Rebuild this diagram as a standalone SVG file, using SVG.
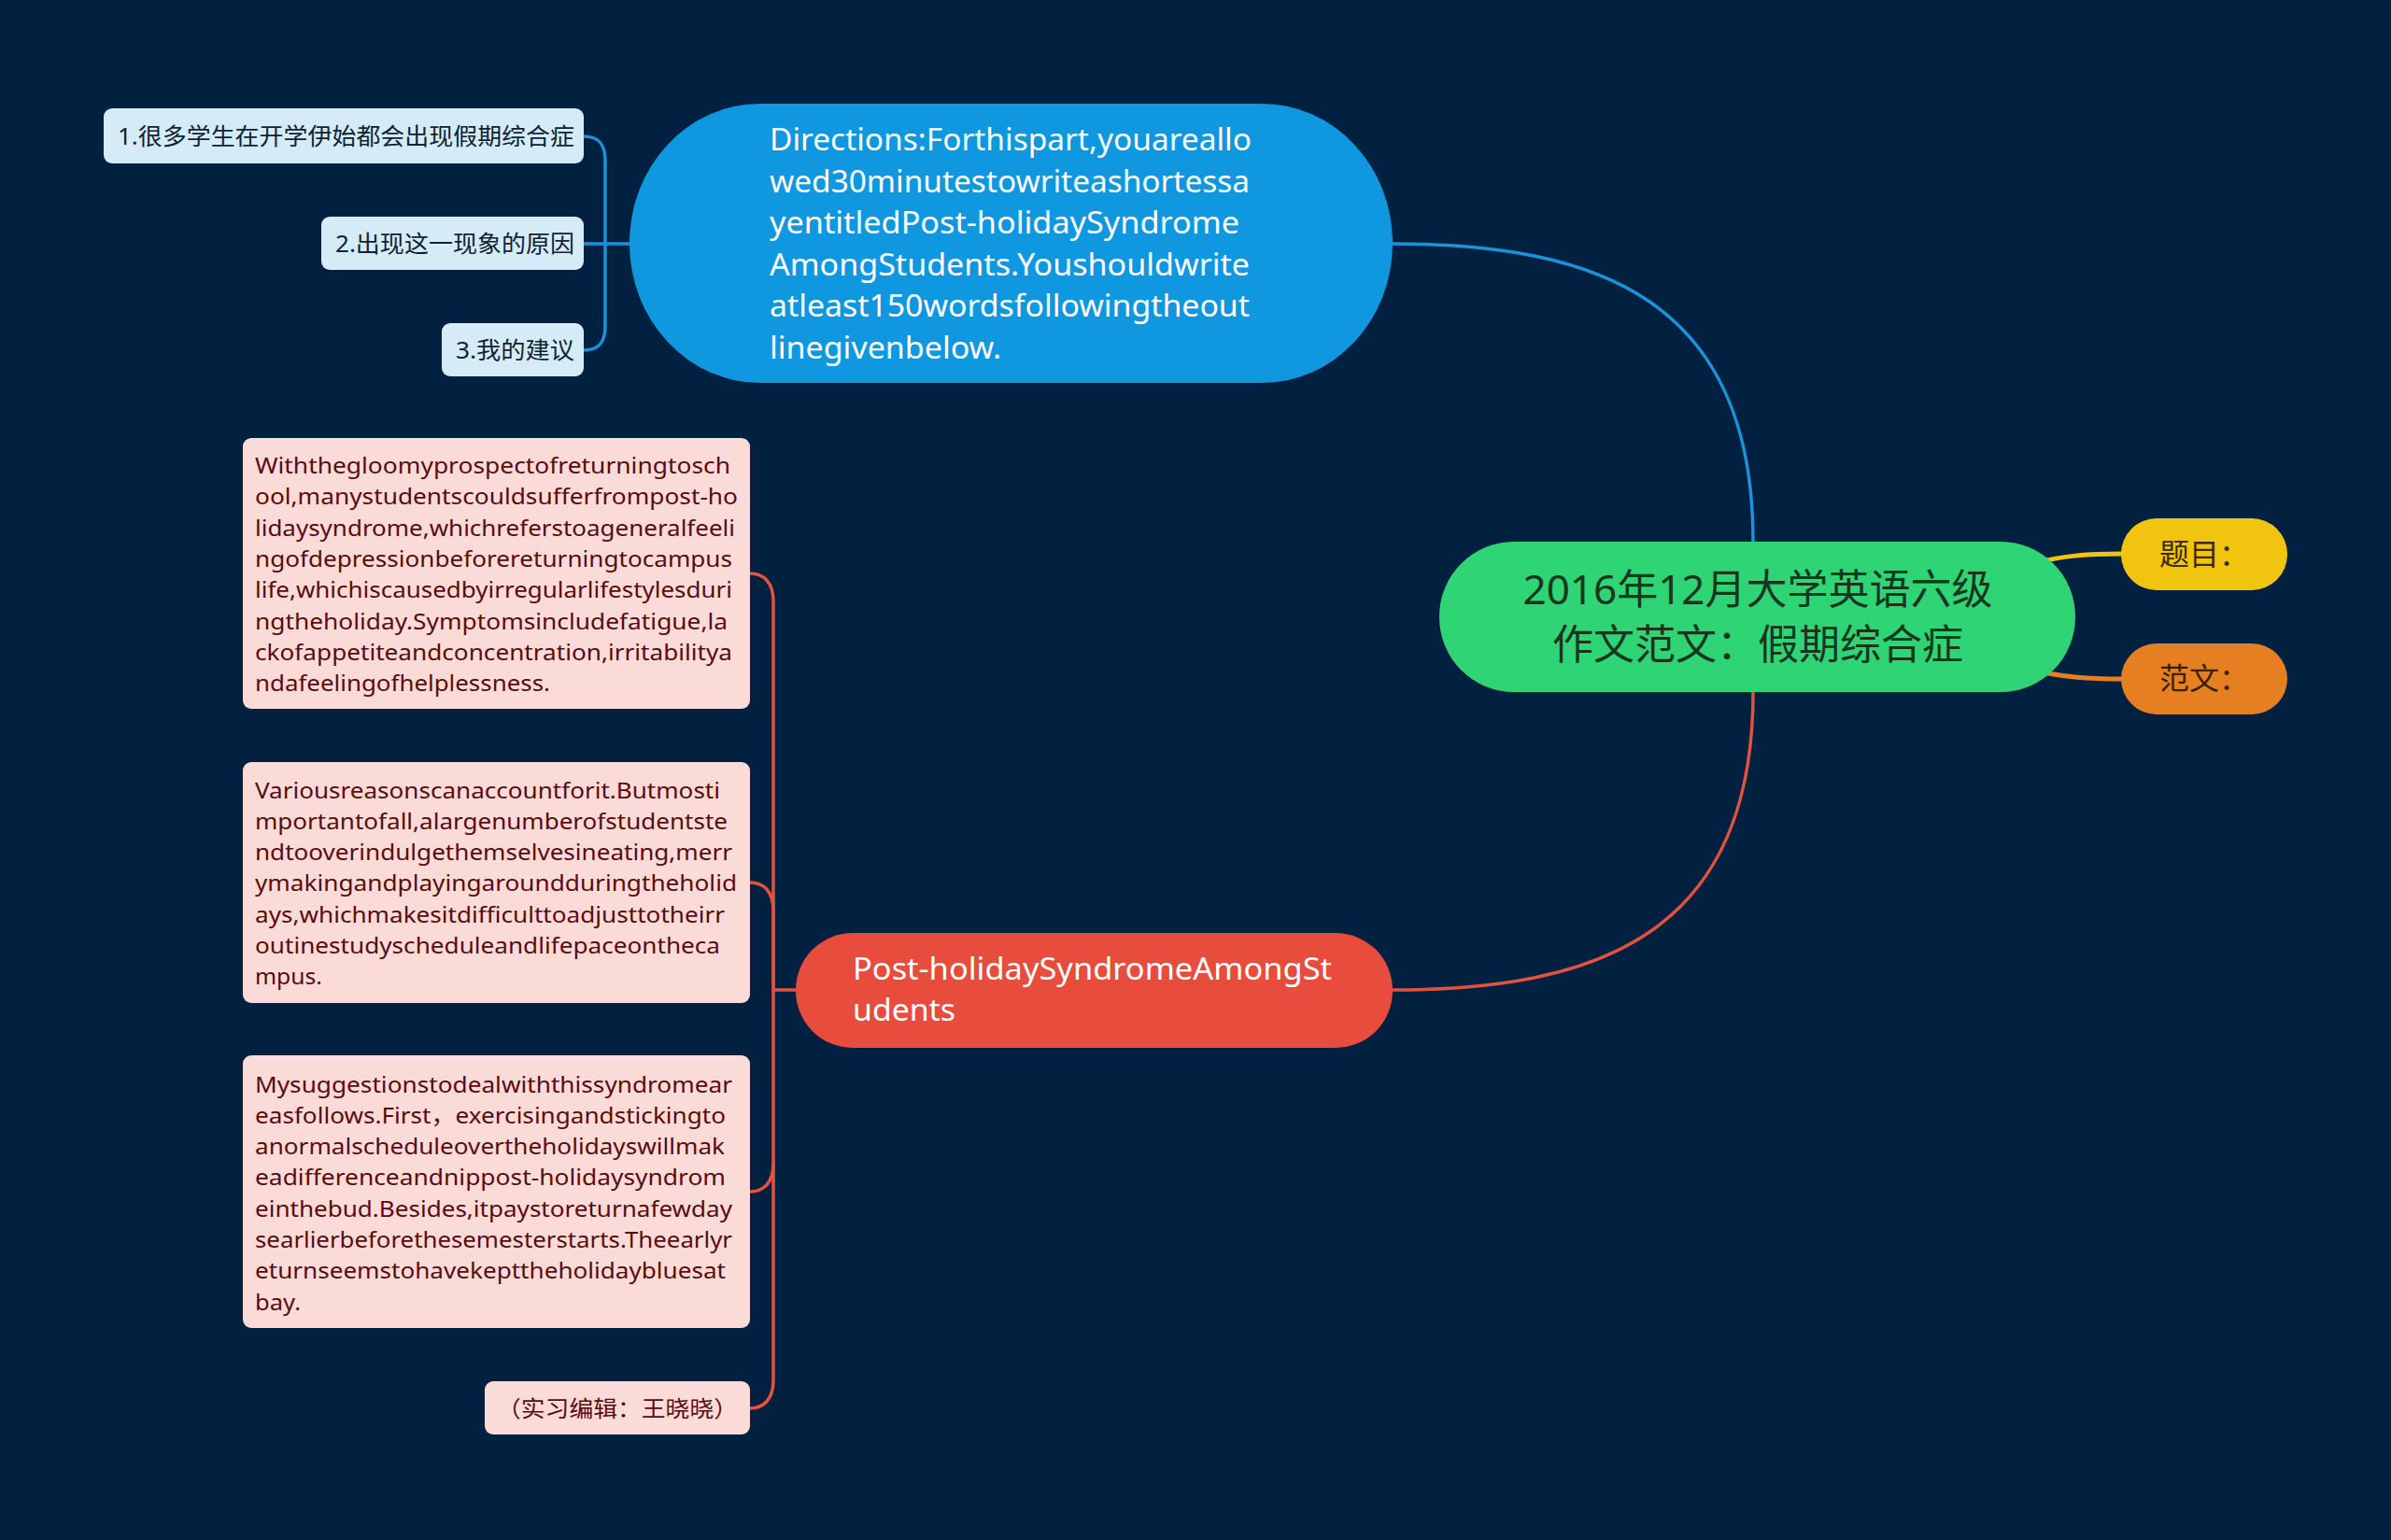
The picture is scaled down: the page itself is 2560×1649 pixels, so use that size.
<svg xmlns="http://www.w3.org/2000/svg" width="2560" height="1649" viewBox="0 0 2560 1649">
<style>
text{font-family:"Noto Sans","Noto Sans CJK SC",sans-serif;}
.conn{fill:none;stroke-linecap:round;}
.cb{stroke:#1b93db;stroke-width:3.5;}
.cr{stroke:#e2533f;stroke-width:3.5;}
.cy{stroke:#f1c40f;stroke-width:5;}
.co{stroke:#e67e22;stroke-width:5;}
.lb{fill:#d5ecf8;}
.lbt{fill:#0e2333;font-size:25px;}
.pk{fill:#fadbd8;}
.pkt{fill:#5a0b0b;font-size:24px;}
.wt{fill:#ffffff;}
</style>
<rect x="0" y="0" width="2560" height="1649" fill="#022040"/>
<g id="connectors">
<path class="conn cb" d="M1491,261 C1710,261 1877,320 1877,580"/>
<path class="conn cr" d="M1877,741 C1877,1001 1710,1060 1491,1060"/>
<path class="conn cy" d="M2170,605 C2210,594 2240,593 2271,593"/>
<path class="conn co" d="M2170,716 C2210,726 2240,727 2271,727"/>
<path class="conn cb" d="M674,261 L625,261"/>
<path class="conn cb" d="M648,261 L648,172 C648,153 640,146 625,146"/>
<path class="conn cb" d="M648,261 L648,349 C648,368 640,375 625,375"/>
<path class="conn cr" d="M852,1060 L828,1060 L828,644 C828,624 818,614 803,614"/>
<path class="conn cr" d="M828,1060 L828,975 C828,955 818,945 803,945"/>
<path class="conn cr" d="M828,1060 L828,1246 C828,1266 818,1276 803,1276"/>
<path class="conn cr" d="M828,1246 L828,1478 C828,1498 818,1508 803,1508"/>
</g>
<g id="root">
<rect x="1541" y="580" width="681" height="161" rx="80" ry="80" fill="#2fd474"/>
<text x="1882" y="647" font-size="44" fill="#17361f" text-anchor="middle">2016年12月大学英语六级</text>
<text x="1882" y="706" font-size="44" fill="#17361f" text-anchor="middle">作文范文：假期综合症</text>
</g>
<g id="topic">
<rect x="2271" y="555" width="178" height="77" rx="38" fill="#f1c40f"/>
<text x="2360" y="605" font-size="32" fill="#3b2b05" text-anchor="middle">题目：</text>
</g>
<g id="sample">
<rect x="2271" y="689" width="178" height="76" rx="38" fill="#e67e22"/>
<text x="2360" y="738" font-size="32" fill="#3b2005" text-anchor="middle">范文：</text>
</g>
<g id="directions">
<rect x="674" y="111" width="817" height="299" rx="140" ry="149" fill="#0f98df"/>
<g class="wt" font-size="32">
<text x="824" y="161" textLength="516" lengthAdjust="spacingAndGlyphs">Directions:Forthispart,youareallo</text>
<text x="824" y="205.5" textLength="514" lengthAdjust="spacingAndGlyphs">wed30minutestowriteashortessa</text>
<text x="824" y="250" textLength="503" lengthAdjust="spacingAndGlyphs">yentitledPost-holidaySyndrome</text>
<text x="824" y="294.5" textLength="514" lengthAdjust="spacingAndGlyphs">AmongStudents.Youshouldwrite</text>
<text x="824" y="339" textLength="514" lengthAdjust="spacingAndGlyphs">atleast150wordsfollowingtheout</text>
<text x="824" y="383.5" textLength="248" lengthAdjust="spacingAndGlyphs">linegivenbelow.</text>
</g>
</g>
<g id="outline1">
<rect class="lb" x="111" y="116" width="514" height="59" rx="9"/>
<text class="lbt" x="126" y="155" textLength="489" lengthAdjust="spacingAndGlyphs">1.很多学生在开学伊始都会出现假期综合症</text>
</g>
<g id="outline2">
<rect class="lb" x="344" y="232" width="281" height="57" rx="9"/>
<text class="lbt" x="359" y="269.5" textLength="256" lengthAdjust="spacingAndGlyphs">2.出现这一现象的原因</text>
</g>
<g id="outline3">
<rect class="lb" x="473" y="346" width="152" height="57" rx="9"/>
<text class="lbt" x="488" y="383.5" textLength="127" lengthAdjust="spacingAndGlyphs">3.我的建议</text>
</g>
<g id="essay">
<rect x="852" y="999" width="639" height="123" rx="61" fill="#e74c3c"/>
<text class="wt" x="913" y="1049" font-size="32" textLength="513" lengthAdjust="spacingAndGlyphs">Post-holidaySyndromeAmongSt</text>
<text class="wt" x="913" y="1093" font-size="32" textLength="110" lengthAdjust="spacingAndGlyphs">udents</text>
</g>
<g id="para1">
<rect class="pk" x="260" y="469" width="543" height="290" rx="9"/>
<g class="pkt">
<text x="273" y="507" textLength="509" lengthAdjust="spacingAndGlyphs">Withthegloomyprospectofreturningtosch</text>
<text x="273" y="540.3" textLength="517" lengthAdjust="spacingAndGlyphs">ool,manystudentscouldsufferfrompost-ho</text>
<text x="273" y="573.6" textLength="514" lengthAdjust="spacingAndGlyphs">lidaysyndrome,whichreferstoageneralfeeli</text>
<text x="273" y="606.9" textLength="511" lengthAdjust="spacingAndGlyphs">ngofdepressionbeforereturningtocampus</text>
<text x="273" y="640.2" textLength="511" lengthAdjust="spacingAndGlyphs">life,whichiscausedbyirregularlifestylesduri</text>
<text x="273" y="673.5" textLength="506" lengthAdjust="spacingAndGlyphs">ngtheholiday.Symptomsincludefatigue,la</text>
<text x="273" y="706.8" textLength="511" lengthAdjust="spacingAndGlyphs">ckofappetiteandconcentration,irritabilitya</text>
<text x="273" y="740.1" textLength="316" lengthAdjust="spacingAndGlyphs">ndafeelingofhelplessness.</text>
</g>
</g>
<g id="para2">
<rect class="pk" x="260" y="816" width="543" height="258" rx="9"/>
<g class="pkt">
<text x="273" y="854.5" textLength="498" lengthAdjust="spacingAndGlyphs">Variousreasonscanaccountforit.Butmosti</text>
<text x="273" y="887.8" textLength="506" lengthAdjust="spacingAndGlyphs">mportantofall,alargenumberofstudentste</text>
<text x="273" y="921.1" textLength="511" lengthAdjust="spacingAndGlyphs">ndtooverindulgethemselvesineating,merr</text>
<text x="273" y="954.4" textLength="516" lengthAdjust="spacingAndGlyphs">ymakingandplayingaroundduringtheholid</text>
<text x="273" y="987.7" textLength="503" lengthAdjust="spacingAndGlyphs">ays,whichmakesitdifficulttoadjusttotheirr</text>
<text x="273" y="1021" textLength="498" lengthAdjust="spacingAndGlyphs">outinestudyscheduleandlifepaceontheca</text>
<text x="273" y="1054.3" textLength="72" lengthAdjust="spacingAndGlyphs">mpus.</text>
</g>
</g>
<g id="para3">
<rect class="pk" x="260" y="1130" width="543" height="292" rx="9"/>
<g class="pkt">
<text x="273" y="1169.5" textLength="511" lengthAdjust="spacingAndGlyphs">Mysuggestionstodealwiththissyndromear</text>
<text x="273" y="1202.8" textLength="504" lengthAdjust="spacingAndGlyphs">easfollows.First，exercisingandstickingto</text>
<text x="273" y="1236.1" textLength="503" lengthAdjust="spacingAndGlyphs">anormalscheduleovertheholidayswillmak</text>
<text x="273" y="1269.4" textLength="504" lengthAdjust="spacingAndGlyphs">eadifferenceandnippost-holidaysyndrom</text>
<text x="273" y="1302.7" textLength="511" lengthAdjust="spacingAndGlyphs">einthebud.Besides,itpaystoreturnafewday</text>
<text x="273" y="1336" textLength="511" lengthAdjust="spacingAndGlyphs">searlierbeforethesemesterstarts.Theearlyr</text>
<text x="273" y="1369.3" textLength="504" lengthAdjust="spacingAndGlyphs">eturnseemstohavekepttheholidaybluesat</text>
<text x="273" y="1402.6" textLength="49" lengthAdjust="spacingAndGlyphs">bay.</text>
</g>
</g>
<g id="editor">
<rect class="pk" x="519" y="1479" width="284" height="57" rx="9"/>
<text class="pkt" x="532" y="1517" font-size="26" textLength="258" lengthAdjust="spacingAndGlyphs">（实习编辑：王晓晓）</text>
</g>
</svg>
